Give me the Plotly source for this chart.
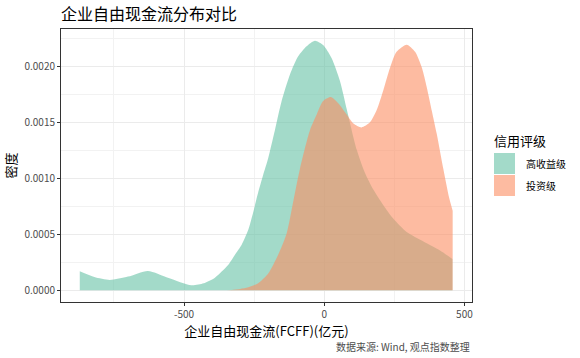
import plotly.graph_objects as go

# ---- data ----
series_names = ["高收益级", "投资级"]

hy_x = [-872, -820, -765, -700, -629, -555, -474, -430, -390, -366, -343, -319,
        -295, -271, -254, -236, -218, -200, -176, -152, -122, -93, -63, -33, -4,
        26, 56, 80, 116, 145, 175, 211, 246, 294, 354, 413, 457]
hy_y = [0.000170, 0.000118, 0.000092, 0.000122, 0.000173, 0.000110, 0.000045,
        0.000062, 0.000112, 0.000167, 0.000226, 0.000316, 0.000405, 0.000540,
        0.000690, 0.000870, 0.001030, 0.001180, 0.001430, 0.001690, 0.001930,
        0.002090, 0.002180, 0.002230, 0.002190, 0.002075, 0.001870, 0.001620,
        0.001255, 0.001050, 0.000900, 0.000760, 0.000640, 0.000520, 0.000435,
        0.000355, 0.000280]

ig_x = [-347, -300, -271, -236, -200, -164, -134, -110, -87, -51, -27, -4, 23,
        50, 80, 104, 133, 163, 187, 211, 235, 258, 294, 324, 348, 366, 384, 401,
        425, 445, 458]
ig_y = [0.0, 0.000012, 0.000027, 0.000063, 0.000150, 0.000320, 0.000510,
        0.000800, 0.001080, 0.001430, 0.001570, 0.001690, 0.001726, 0.001670,
        0.001570, 0.001490, 0.001455, 0.001500, 0.001610, 0.001790, 0.001990,
        0.002130, 0.002194, 0.002130, 0.001990, 0.001810, 0.001600, 0.001400,
        0.001080, 0.000830, 0.000710]

x_ticks = [-500, 0, 500]
y_ticks = [0.0, 0.0005, 0.0010, 0.0015, 0.0020]

title_text = "企业自由现金流分布对比"
x_title = "企业自由现金流(FCFF)(亿元)"
y_title = "密度"
legend_title = "信用评级"
caption = "数据来源: Wind, 观点指数整理"

colors = ["rgba(102,194,165,0.6)", "rgba(252,141,98,0.6)"]
FONT = "Noto Sans CJK SC"

fig = go.Figure()
for name, xs, ys, col in [(series_names[0], hy_x, hy_y, colors[0]),
                          (series_names[1], ig_x, ig_y, colors[1])]:
    fig.add_trace(go.Scatter(
        x=xs, y=ys, name=name, mode="lines", fill="tozeroy",
        fillcolor=col, line=dict(width=0, shape="spline", smoothing=0.7, color=col),
        showlegend=False, hoverinfo="x+y+name"))

axis_common = dict(
    showline=True, mirror=True, linecolor="#333333", linewidth=1,
    ticks="outside", ticklen=3, tickcolor="#333333", tickwidth=1,
    gridcolor="#EBEBEB", gridwidth=1, zeroline=False,
    tickfont=dict(family=FONT, size=10, color="#4D4D4D"),
)

fig.update_xaxes(**axis_common, range=[-939, 527], tickvals=x_ticks,
                 ticktext=[str(v) for v in x_ticks],
                 minor=dict(showgrid=True, gridcolor="#F2F2F2", gridwidth=0.6,
                            tickvals=[-750, -250, 250], ticks=""),
                 title=dict(text=x_title, font=dict(family=FONT, size=13, color="#000000"),
                            standoff=1))
fig.update_yaxes(**axis_common, range=[-0.000105, 0.002334], tickvals=y_ticks,
                 ticktext=[f"{v:.4f}" for v in y_ticks],
                 minor=dict(showgrid=True, gridcolor="#F2F2F2", gridwidth=0.6,
                            tickvals=[0.00025, 0.00075, 0.00125, 0.00175, 0.00225], ticks=""),
                 title=dict(text=y_title, font=dict(family=FONT, size=13, color="#000000"),
                            standoff=4))

L, R, T, B = 61, 108, 29, 56
W, H = 580, 358
pw, ph = W - L - R, H - T - B

def px2paper_x(px):
    return (px - L) / pw

def px2paper_y(py):
    return (H - B - py) / ph

shapes = []
annotations = []
# custom legend
annotations.append(dict(text=legend_title, xref="paper", yref="paper",
                        x=px2paper_x(492), y=px2paper_y(140), xanchor="left", yanchor="middle",
                        showarrow=False, font=dict(family=FONT, size=13, color="#000000")))
key_tops = [153, 175]
for name, col, top in zip(series_names, colors, key_tops):
    shapes.append(dict(type="rect", xref="paper", yref="paper",
                       x0=px2paper_x(494), x1=px2paper_x(515),
                       y0=px2paper_y(top + 21), y1=px2paper_y(top),
                       fillcolor=col, line=dict(width=0)))
    annotations.append(dict(text=name, xref="paper", yref="paper",
                            x=px2paper_x(524), y=px2paper_y(top + 10.5),
                            xanchor="left", yanchor="middle", showarrow=False,
                            font=dict(family=FONT, size=10, color="#000000")))
# caption
annotations.append(dict(text=caption, xref="paper", yref="paper",
                        x=px2paper_x(472), y=px2paper_y(346), xanchor="right", yanchor="middle",
                        showarrow=False, font=dict(family=FONT, size=10, color="#4D4D4D")))

fig.update_layout(
    width=W, height=H,
    margin=dict(l=L, r=R, t=T, b=B, pad=0),
    paper_bgcolor="white", plot_bgcolor="white",
    title=dict(text=title_text, x=L / W, xanchor="left", y=1 - 14 / H, yanchor="middle",
               font=dict(family=FONT, size=16, color="#000000")),
    font=dict(family=FONT),
    shapes=shapes, annotations=annotations,
    showlegend=False,
)

fig.write_html("out.html", config={"displayModeBar": False},
               post_script="document.body.style.margin='0';document.body.style.padding='0';")
